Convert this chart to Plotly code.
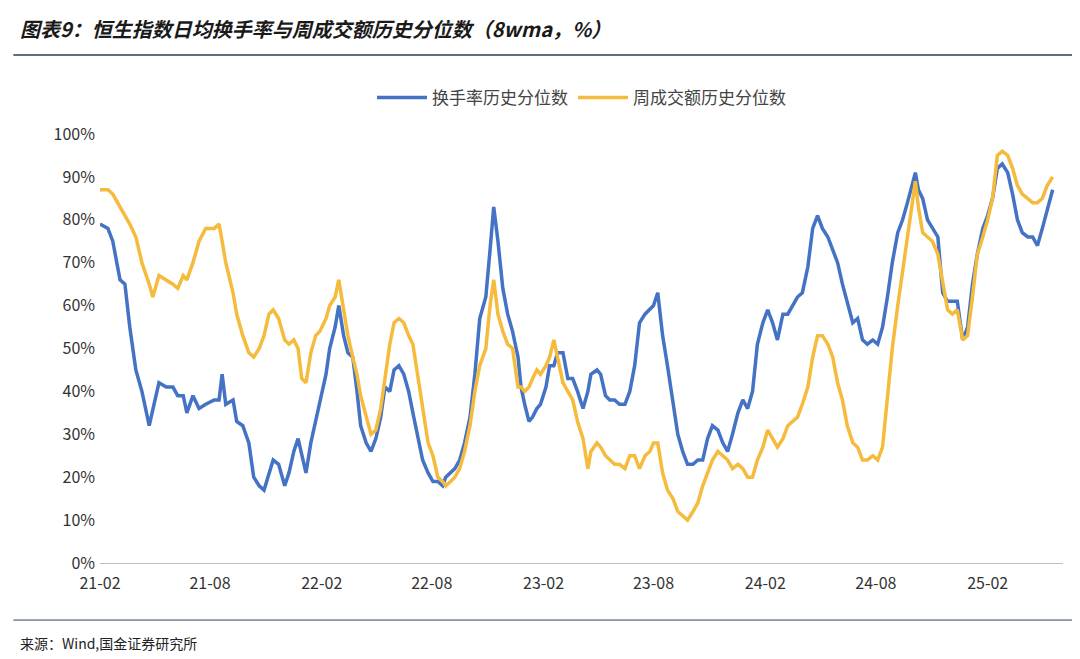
import plotly.graph_objects as go
import pandas as pd

days = [0,13,21,33,41,49,59,69,81,87,97,109,120,128,137,143,153,163,174,188,196,201,207,219,225,235,245,253,262,270,278,285,294,304,311,319,326,332,339,347,355,362,372,378,387,393,401,408,416,423,429,438,446,454,462,469,477,484,492,500,508,515,523,531,540,548,556,564,569,577,584,592,600,609,617,625,635,642,648,655,663,671,679,688,693,699,706,712,719,725,734,740,747,753,762,770,778,786,795,803,808,818,824,832,839,847,855,864,872,880,888,897,905,911,918,926,934,943,951,959,967,976,984,992,1000,1008,1017,1025,1033,1041,1050,1058,1066,1074,1082,1091,1099,1107,1115,1124,1132,1140,1148,1156,1165,1173,1181,1189,1198,1206,1214,1222,1230,1239,1247,1255,1263,1272,1280,1288,1296,1304,1313,1321,1329,1337,1342,1347,1354,1362,1370,1379,1387,1395,1403,1411,1420,1428,1436,1444,1453,1461,1469,1477,1485,1494,1502,1510,1518,1527,1535,1543,1551,1559,1568]

turnover = [79,78,75,66,65,55,45,40,32,36,42,41,41,39,39,35,39,36,37,38,38,44,37,38,33,32,28,20,18,17,21,24,23,18,21,26,29,25,21,28,33,38,44,50,55,60,53,49,48,40,32,28,26,29,34,41,40,45,46,44,40,35,29,24,21,19,19,18,20,21,22,24,28,34,44,57,62,73,83,75,64,58,54,48,41,37,33,34,36,37,41,46,46,49,49,43,43,40,36,40,44,45,44,39,38,38,37,37,40,46,56,58,59,60,63,53,46,38,30,26,23,23,24,24,29,32,31,28,26,30,35,38,36,40,51,56,59,56,52,58,58,60,62,63,69,78,81,78,76,73,70,65,61,56,57,52,51,52,51,55,62,70,77,80,84,88,91,87,85,80,78,76,63,61,61,61,52,55,65,72,78,81,85,92,93,91,86,80,77,76,76,74,78,82,87]

amount = [87,87,86,83,81,79,76,70,65,62,67,66,65,64,67,66,70,75,78,78,79,75,70,63,58,53,49,48,50,53,58,59,57,52,51,52,50,43,42,49,53,54,57,60,62,66,59,53,48,44,39,34,30,31,36,43,51,56,57,56,53,51,44,36,28,25,20,19,18,19,20,22,26,32,40,46,50,60,66,58,54,51,50,41,41,40,41,43,45,44,46,48,52,48,42,40,38,33,29,22,26,28,27,25,24,23,23,22,25,25,22,25,26,28,28,21,17,15,12,11,10,12,14,18,21,24,26,25,24,22,23,22,20,20,24,27,31,29,27,29,32,33,34,37,41,48,53,53,51,48,42,38,32,28,27,24,24,25,24,27,38,50,60,68,76,83,89,83,77,76,75,72,65,59,58,59,52,53,62,72,76,80,85,95,96,95,92,88,86,85,84,84,85,88,90]

tick_dates = ["2021-02-01","2021-08-01","2022-02-01","2022-08-01","2023-02-01","2023-08-01","2024-02-01","2024-08-01","2025-02-01"]
tick_text = ["21-02","21-08","22-02","22-08","23-02","23-08","24-02","24-08","25-02"]

dates = pd.Timestamp("2021-02-01") + pd.to_timedelta(days, unit="D")

fig = go.Figure()
fig.add_trace(go.Scatter(x=dates, y=turnover, mode="lines", name="换手率历史分位数",
                         line=dict(color="#4472C4", width=3.5)))
fig.add_trace(go.Scatter(x=dates, y=amount, mode="lines", name="周成交额历史分位数",
                         line=dict(color="#F5BB3C", width=3.5)))

font = "Noto Sans CJK SC"
fig.update_layout(
    width=1080, height=659, plot_bgcolor="white", paper_bgcolor="white",
    margin=dict(l=92, r=25, t=126, b=104),
    font=dict(family=font, size=15, color="#333"),
    legend=dict(orientation="h", x=0.5, xanchor="center", y=1.084, yanchor="middle",
                font=dict(size=17, color="#444"), itemwidth=50),
    xaxis=dict(tickvals=pd.to_datetime(tick_dates), ticktext=tick_text, showgrid=False,
               showline=True, linecolor="#BFBFBF", linewidth=1, ticks="",
               ticklabelstandoff=6,
               range=[pd.Timestamp("2021-02-01"), pd.Timestamp("2025-06-05")],
               tickfont=dict(size=16, color="#333")),
    yaxis=dict(range=[0, 100], tickvals=list(range(0, 101, 10)),
               ticktext=[f"{v}%" for v in range(0, 101, 10)], showgrid=False,
               zeroline=False, showline=False, ticklabelstandoff=4,
               tickfont=dict(size=16, color="#333")),
    showlegend=True,
)
fig.add_annotation(text="<b><i>图表9：恒生指数日均换手率与周成交额历史分位数（8wma，%）</i></b>",
                   xref="paper", yref="paper", x=-0.085, y=1.247, xanchor="left", yanchor="middle",
                   showarrow=False, font=dict(size=20, color="#1a1a1a"))
fig.add_annotation(text="来源：Wind,国金证券研究所", xref="paper", yref="paper",
                   x=-0.085, y=-0.186, xanchor="left", yanchor="middle", showarrow=False,
                   font=dict(size=14, color="#222"))
fig.add_shape(type="line", xref="paper", yref="paper", x0=-0.09, x1=1.02, y0=1.184, y1=1.184,
              line=dict(color="#2F3E5C", width=1.5))
fig.add_shape(type="line", xref="paper", yref="paper", x0=-0.09, x1=1.02, y0=-0.133, y1=-0.133,
              line=dict(color="#2F3E5C", width=1))
fig.write_html("out.html")
